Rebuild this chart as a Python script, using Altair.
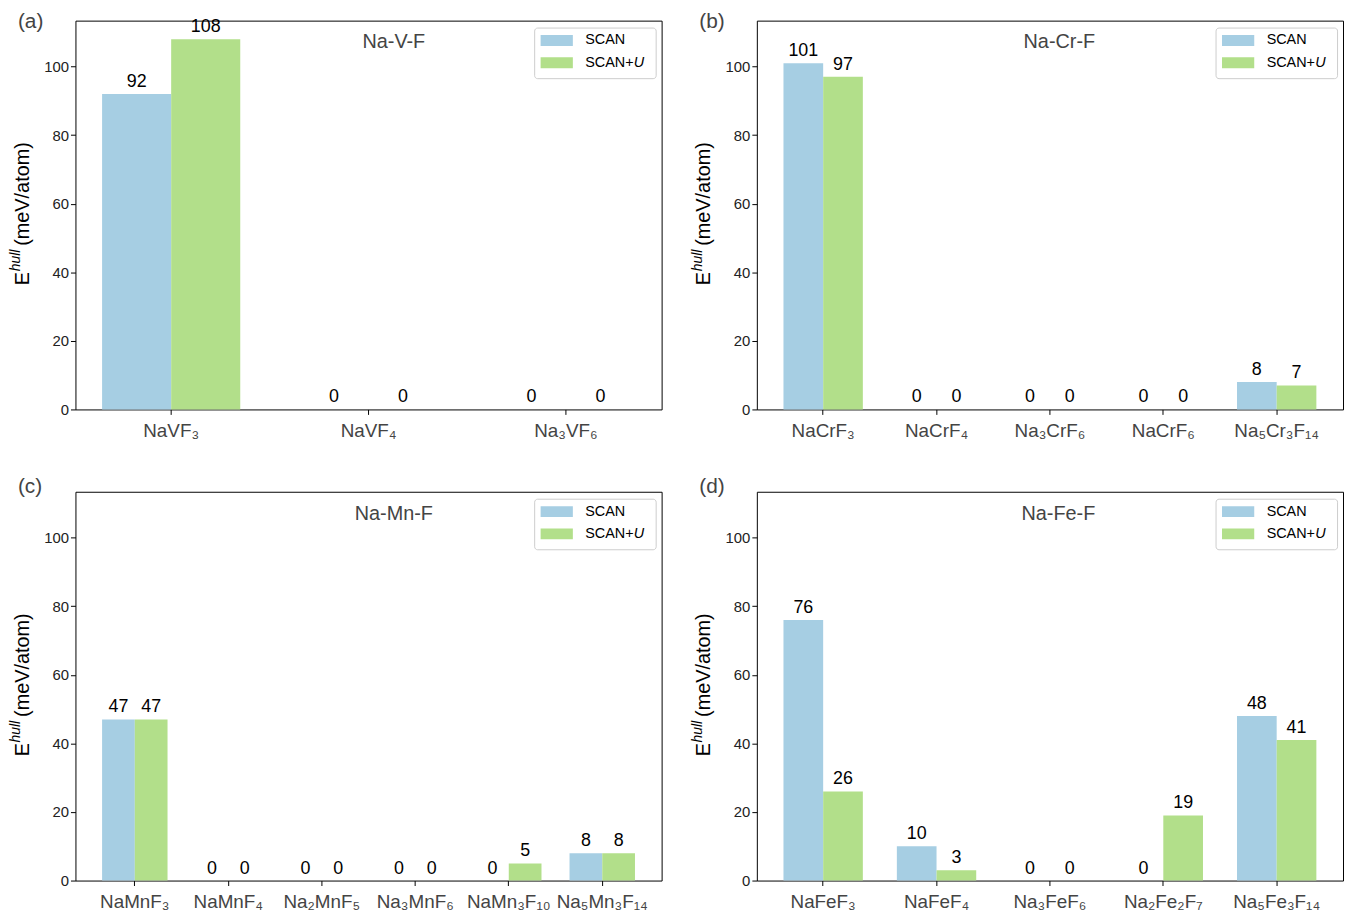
import altair as alt
import pandas as pd

# ---------------- data ----------------
methods = ["SCAN", "SCAN+U"]
colors = ["#a6cee3", "#b2df8a"]

a_compounds = ["NaVF₃", "NaVF₄", "Na₃VF₆"]
a_scan = [92, 0, 0]
a_scanu = [108, 0, 0]

b_compounds = ["NaCrF₃", "NaCrF₄", "Na₃CrF₆", "NaCrF₆", "Na₅Cr₃F₁₄"]
b_scan = [101, 0, 0, 0, 8]
b_scanu = [97, 0, 0, 0, 7]

c_compounds = ["NaMnF₃", "NaMnF₄", "Na₂MnF₅", "Na₃MnF₆", "NaMn₃F₁₀", "Na₅Mn₃F₁₄"]
c_scan = [47, 0, 0, 0, 0, 8]
c_scanu = [47, 0, 0, 0, 5, 8]

d_compounds = ["NaFeF₃", "NaFeF₄", "Na₃FeF₆", "Na₂Fe₂F₇", "Na₅Fe₃F₁₄"]
d_scan = [76, 10, 0, 0, 48]
d_scanu = [26, 3, 0, 19, 41]

y_ticks = [0, 20, 40, 60, 80, 100]
Y_MAX = 113.4

panels = [
    dict(tag="(a)", system="Na-V-F", comps=a_compounds, scan=a_scan, scanu=a_scanu, sys_x=321, tag_y=7),
    dict(tag="(b)", system="Na-Cr-F", comps=b_compounds, scan=b_scan, scanu=b_scanu, sys_x=305, tag_y=7),
    dict(tag="(c)", system="Na-Mn-F", comps=c_compounds, scan=c_scan, scanu=c_scanu, sys_x=321, tag_y=1),
    dict(tag="(d)", system="Na-Fe-F", comps=d_compounds, scan=d_scan, scanu=d_scanu, sys_x=304, tag_y=1),
]

W, H = 591, 392
FONT = "Liberation Sans"
one = pd.DataFrame({"k": [0]})


def txt(text, x, y, **kw):
    return alt.Chart(one).mark_text(text=text, font=FONT, **kw).encode(
        x=alt.value(x), y=alt.value(y)
    )


def box(x, x2, y, y2, **kw):
    return alt.Chart(one).mark_rect(**kw).encode(
        x=alt.value(x), x2=alt.value(x2), y=alt.value(y), y2=alt.value(y2)
    )


def make_panel(p):
    rows = []
    for c, s, u in zip(p["comps"], p["scan"], p["scanu"]):
        rows.append({"compound": c, "method": methods[0], "value": s})
        rows.append({"compound": c, "method": methods[1], "value": u})
    df = pd.DataFrame(rows)
    n = len(p["comps"])
    pad_outer = 0.05 * (n - 0.3)
    step = W / (n - 0.3 + 2 * pad_outer)
    bw = 0.35 * step  # width of one bar

    x = alt.X(
        "compound:N",
        sort=p["comps"],
        scale=alt.Scale(paddingInner=0.3, paddingOuter=pad_outer),
        axis=alt.Axis(
            title=None, labelAngle=0, labelFontSize=19, labelColor="#444444",
            labelFont=FONT, tickSize=5, tickColor="black", tickWidth=1,
            labelPadding=7, domain=False, labelOverlap=False, labelLimit=300,
        ),
    )
    y = alt.Y(
        "value:Q",
        scale=alt.Scale(domain=[0, Y_MAX], nice=False, zero=True),
        axis=alt.Axis(
            title=None, values=y_ticks, format="d", tickSize=5, tickColor="black",
            tickWidth=1, labelFontSize=15, labelColor="#222222", labelFont=FONT,
            labelPadding=2, domain=False, grid=False,
        ),
    )
    color = alt.Color("method:N", scale=alt.Scale(domain=methods, range=colors), legend=None)

    layers = []
    for m, sign in zip(methods, [-1, 1]):
        sub = alt.Chart(df).transform_filter(alt.datum.method == m)
        layers.append(
            sub.mark_bar(width=bw, xOffset=sign * bw / 2).encode(x=x, y=y, color=color)
        )
        layers.append(
            sub.mark_text(
                baseline="alphabetic", dy=-7, xOffset=sign * bw / 2,
                fontSize=18, color="black", font=FONT,
            ).encode(x=x, y=y, text=alt.Text("value:Q", format="d"))
        )

    layers += [
        # legend
        box(463, 585.5, 7.5, 58.5, fill="white", stroke="#cccccc", strokeWidth=1, cornerRadius=3),
        box(469, 501.5, 14.5, 25.5, fill=colors[0]),
        box(469, 501.5, 37, 48, fill=colors[1]),
        txt("SCAN", 514, 20, align="left", baseline="middle", fontSize=14.5, color="black"),
        txt("SCAN+", 514, 42.5, align="left", baseline="middle", fontSize=14.5, color="black"),
        txt("U", 563, 42.5, align="left", baseline="middle", fontSize=14.5, color="black", fontStyle="italic"),
        # system name
        txt(p["system"], p["sys_x"], 28, align="center", baseline="alphabetic", fontSize=20, color="#444444"),
        # panel tag
        txt(p["tag"], -58, p["tag_y"], align="left", baseline="alphabetic", fontSize=21, color="#444444"),
        # y axis title
        txt("E", -47.3, 266.7, angle=270, align="left", baseline="alphabetic", fontSize=20, color="black"),
        txt("hull", -55.7, 252.7, angle=270, align="left", baseline="alphabetic", fontSize=14,
            fontStyle="italic", color="black"),
        txt("(meV/atom)", -47.3, 227, angle=270, align="left", baseline="alphabetic", fontSize=20,
            color="black"),
    ]
    return alt.layer(*layers).properties(
        width=W, height=H, view=alt.ViewBackground(stroke="black", strokeWidth=1)
    )


chart = alt.concat(
    *[make_panel(p) for p in panels],
    columns=2,
    spacing=alt.RowColnumber(row=83, column=96),
    bounds="flush",
).properties(
    padding={"left": 0, "top": -2, "right": 0, "bottom": 0}
).configure_view(
    stroke="black", strokeWidth=1
).configure(font=FONT)

chart.save("out.html", embed_options={"renderer": "svg", "actions": False})
